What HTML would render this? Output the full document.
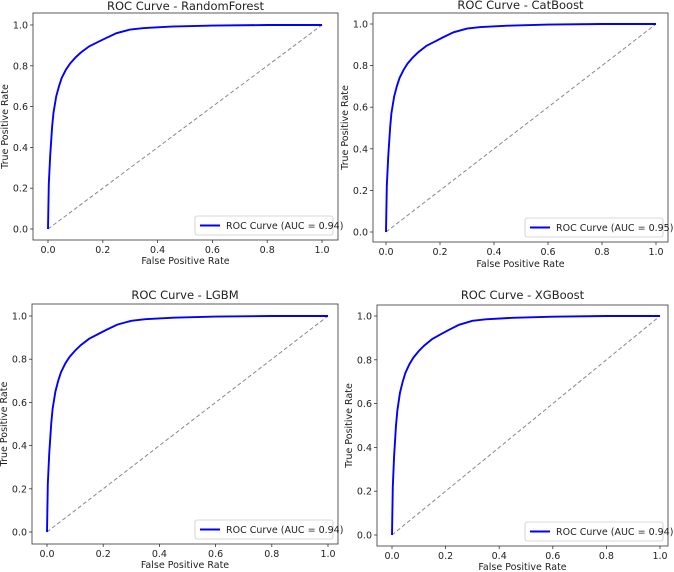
<!DOCTYPE html>
<html><head><meta charset="utf-8"><style>
body{margin:0;background:#fff;width:674px;height:572px;overflow:hidden}
svg{position:absolute;left:0;top:0}
text{font-family:"DejaVu Sans","Liberation Sans",sans-serif;fill:#222}
</style></head><body>
<svg id="s" width="674" height="572" xmlns="http://www.w3.org/2000/svg"></svg>
<script>
const P=[
{t:"ROC Curve - RandomForest",fx:[33,338],fy:[13,240],x0:48,x1:322,y1:25,y0:229,ty:10,xl:264,auc:"0.94"},
{t:"ROC Curve - CatBoost",fx:[373,668],fy:[13,242],x0:386,x1:656,y1:24,y0:232,ty:9,xl:267,auc:"0.95"},
{t:"ROC Curve - LGBM",fx:[32,338],fy:[304,544],x0:47,x1:328,y1:316,y0:532,ty:299,xl:568,auc:"0.94"},
{t:"ROC Curve - XGBoost",fx:[377,668],fy:[305,546],x0:392,x1:660,y1:316,y0:535,ty:299,xl:570,auc:"0.94"}];
const C=[[0,0],[0.003,0.22],[0.008,0.36],[0.015,0.5],[0.02,0.57],[0.03,0.65],[0.04,0.7],[0.05,0.74],[0.065,0.78],[0.08,0.81],[0.1,0.84],[0.12,0.865],[0.15,0.895],[0.18,0.915],[0.21,0.935],[0.25,0.96],[0.3,0.978],[0.35,0.985],[0.45,0.992],[0.6,0.997],[0.8,1],[1,1]];
let h="";
for(const p of P){
 const X=v=>p.x0+v*(p.x1-p.x0),Y=v=>p.y0-v*(p.y0-p.y1);
 h+=`<rect x="${p.fx[0]}" y="${p.fy[0]}" width="${p.fx[1]-p.fx[0]}" height="${p.fy[1]-p.fy[0]}" fill="none" stroke="#333" stroke-width="0.8"/>`;
 h+=`<line x1="${X(0)}" y1="${Y(0)}" x2="${X(1)}" y2="${Y(1)}" stroke="#888" stroke-width="1" stroke-dasharray="4,2.5"/>`;
 h+=`<polyline fill="none" stroke="#0000ff" stroke-width="1.9" points="${C.map(c=>X(c[0]).toFixed(1)+","+Y(c[1]).toFixed(1)).join(" ")}"/>`;
 for(let i=0;i<=5;i++){const v=i/5,s=v.toFixed(1);
  h+=`<line x1="${X(v)}" x2="${X(v)}" y1="${p.fy[1]}" y2="${p.fy[1]+3}" stroke="#333" stroke-width="0.8"/>`;
  h+=`<text x="${X(v)}" y="${p.fy[1]+13}" font-size="9.5" text-anchor="middle">${s}</text>`;
  h+=`<line x1="${p.fx[0]-3}" x2="${p.fx[0]}" y1="${Y(v)}" y2="${Y(v)}" stroke="#333" stroke-width="0.8"/>`;
  h+=`<text x="${p.fx[0]-5}" y="${Y(v)+3.5}" font-size="9.5" text-anchor="end">${s}</text>`;}
 const cx=(p.fx[0]+p.fx[1])/2,cy=(p.fy[0]+p.fy[1])/2;
 h+=`<text x="${cx}" y="${p.ty}" font-size="11.5" text-anchor="middle">${p.t}</text>`;
 h+=`<text x="${cx}" y="${p.xl}" font-size="9.5" text-anchor="middle">False Positive Rate</text>`;
 h+=`<text transform="translate(${p.fx[0]-25},${cy}) rotate(-90)" font-size="9.5" text-anchor="middle">True Positive Rate</text>`;
 const lx=p.fx[1]-143,ly=p.fy[1]-24;
 h+=`<rect x="${lx}" y="${ly}" width="138" height="19" fill="#fff" stroke="#ccc" stroke-width="0.8" rx="2"/>`;
 h+=`<line x1="${lx+5}" x2="${lx+25}" y1="${ly+9.5}" y2="${ly+9.5}" stroke="#0000ff" stroke-width="1.9"/>`;
 h+=`<text x="${lx+31}" y="${ly+13}" font-size="9.5">ROC Curve (AUC = ${p.auc})</text>`;
}
document.getElementById("s").innerHTML=h;
</script>
</body></html>
